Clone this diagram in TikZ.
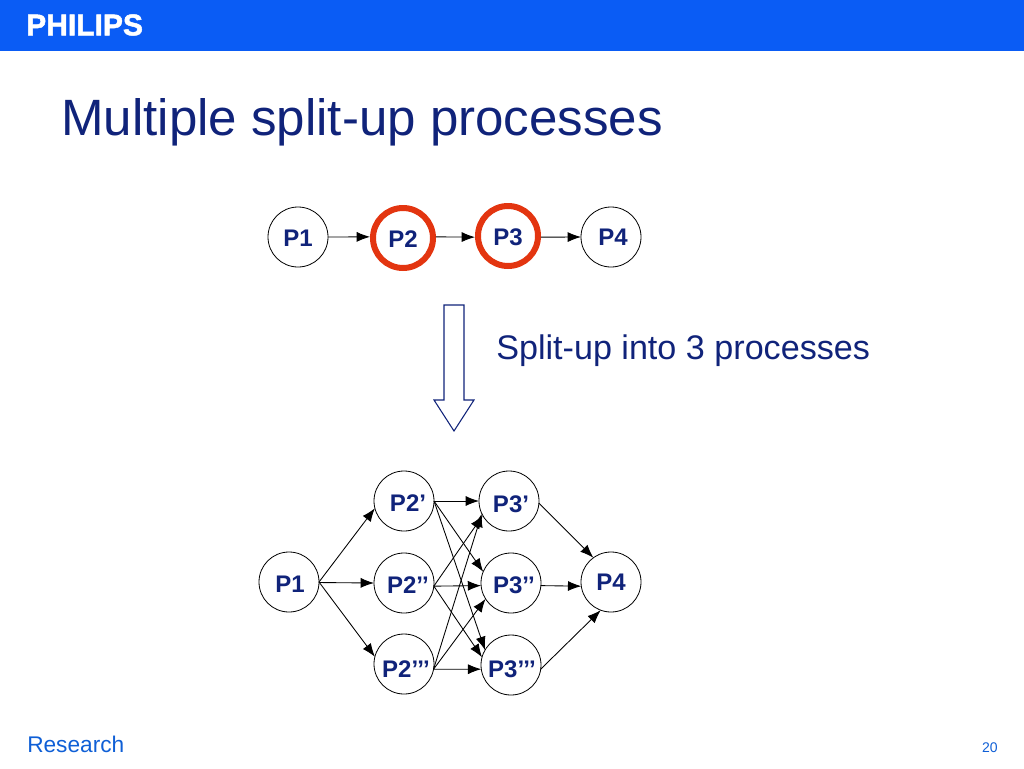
\documentclass[tikz,border=0pt]{standalone}
\usepackage{fontspec}
\setmainfont{Liberation Sans}
\newfontfamily\logofont[UprightFont=* Bold,FakeBold=1.6]{Liberation Sans}
\definecolor{navy}{HTML}{10237A}
\definecolor{barblue}{HTML}{0A5CF5}
\definecolor{linkblue}{HTML}{0F5FD6}
\definecolor{ringred}{HTML}{E33510}
\usetikzlibrary{arrows.meta}
\tikzset{
  proc/.style={circle,draw=black,line width=0.6pt,fill=white,minimum size=45pt,inner sep=0pt,outer sep=0pt},
  ring/.style={circle,draw=ringred,line width=4.5pt,fill=white,minimum size=45pt,inner sep=0pt,outer sep=2.25pt},
  ptext/.style={text=navy,font=\fontsize{18}{20}\selectfont\bfseries,inner sep=0pt},
  conn/.style={draw=black,line width=0.65pt,-{Latex[length=10pt,width=7.5pt]}}
}
\begin{document}
\begin{tikzpicture}[x=0.75pt,y=-0.75pt]
\useasboundingbox (0,0) rectangle (1024,768);
\fill[barblue] (0,0) rectangle (1024,50.5);
\node[text=white,font=\logofont\fontsize{22.5}{24}\selectfont,anchor=west,inner sep=0pt] (logo) at (26,25) {PHILIPS};
\node[text=navy,font=\fontsize{38.3}{40}\selectfont,anchor=base west,inner sep=0pt] (title) at (61,135) {Multiple split-up processes};
% top row
\node[proc] (a1) at (298,237) {};
\node[ring] (a2) at (403,238) {};
\node[ring] (a3) at (508,236) {};
\node[proc] (a4) at (611,237) {};
\node[ptext] (ta1) at (298,238) {P1};
\node[ptext] (ta2) at (403,239) {P2};
\node[ptext] (ta3) at (508,237) {P3};
\node[ptext] (ta4) at (613,237) {P4};
\draw[conn] (a1.east) -- (a2.178);
\draw[conn] (a2.2) -- (a3.182);
\draw[conn] (a3.-2) -- (a4.west);
% block arrow
\draw[draw=navy,line width=0.8pt,fill=white] (444,305) -- (464,305) -- (464,400) -- (474,400) -- (454,431) -- (434,400) -- (444,400) -- cycle;
\node[text=navy,font=\fontsize{25.6}{28}\selectfont,anchor=base west,inner sep=0pt] (split) at (496,359) {Split-up into 3 processes};
% lower group
\node[proc] (b1) at (289,582) {};
\node[proc] (p21) at (404,501) {};
\node[proc] (p22) at (404,583) {};
\node[proc] (p23) at (404,664) {};
\node[proc] (p31) at (509,501) {};
\node[proc] (p32) at (511,583) {};
\node[proc] (p33) at (511,665) {};
\node[proc] (b4) at (611,582) {};
\node[ptext] (tb1) at (290,584) {P1};
\node[ptext] (t21) at (408,503) {P2’};
\node[ptext] (t22) at (408,585) {P2’’};
\node[ptext] (t23) at (406,669) {P2’’’};
\node[ptext] (t31) at (511,504) {P3’};
\node[ptext] (t32) at (514,585) {P3’’};
\node[ptext] (t33) at (512,669) {P3’’’};
\node[ptext] (tb4) at (611,582) {P4};
\draw[conn] (b1.east) -- (p21.194);
\draw[conn] (b1.-1) -- (p22.west);
\draw[conn] (b1.east) -- (p23.166);
\draw[conn] (p21.east) -- (p31.west);
\draw[conn] (p21.east) -- (p32.158);
\draw[conn] (p21.east) -- (p33.150);
\draw[conn] (p22.-6) -- (p31.209);
\draw[conn] (p22.-6) -- (p32.185);
\draw[conn] (p22.-6) -- (p33.165);
\draw[conn] (p23.-10) -- (p31.205);
\draw[conn] (p23.-10) -- (p32.212);
\draw[conn] (p23.-10) -- (p33.188);
\draw[conn] (p31.-4) -- (b4.126);
\draw[conn] (p32.-5) -- (b4.188);
\draw[conn] (p33.-8) -- (b4.250);
% footer
\node[text=linkblue,font=\fontsize{17}{18}\selectfont,anchor=base west,inner sep=0pt] (research) at (27,752) {Research};
\node[text=linkblue,font=\fontsize{10.5}{12}\selectfont,anchor=base east,inner sep=0pt] (pagenum) at (998,752) {20};
\end{tikzpicture}
\end{document}
